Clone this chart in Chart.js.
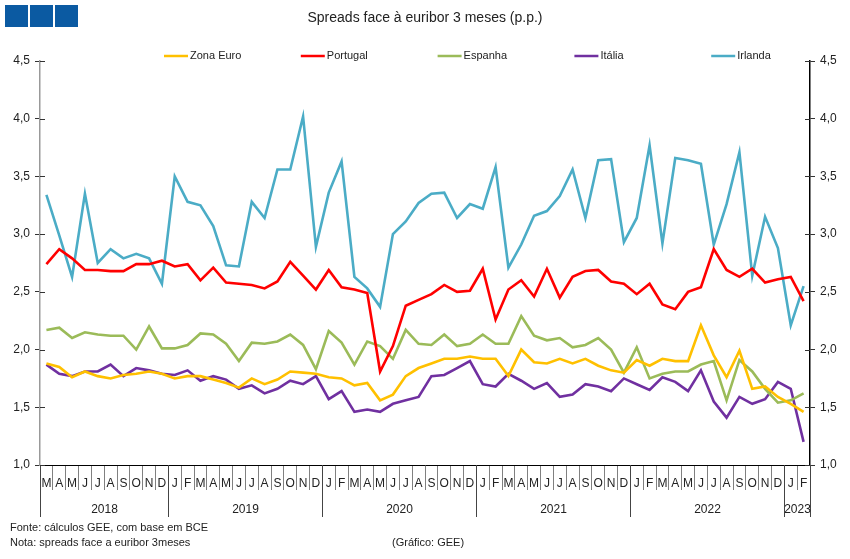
<!DOCTYPE html>
<html>
<head>
<meta charset="utf-8">
<script src="https://cdn.jsdelivr.net/npm/chart.js@4.4.1/dist/chart.umd.min.js"></script>
<style>
    body { margin: 0; background: #fff; font-family: 'Liberation Sans', Arial, sans-serif; }
    #wrap { position: relative; width: 850px; height: 559px; }
    #spreadChart { position: absolute; left: 0; top: 0; }
    .logo { position: absolute; top: 5px; width: 23px; height: 22px; background: #0b5aa2; }
    .txt { position: absolute; color: #222; white-space: nowrap; }
</style>
</head>
<body>
<div id="wrap">
    <canvas id="spreadChart" width="850" height="559"></canvas>
    <div class="logo" style="left:5px"></div>
    <div class="logo" style="left:30px"></div>
    <div class="logo" style="left:55px"></div>
    <div class="txt" style="left:0;width:850px;top:9px;text-align:center;font-size:14px;">Spreads face à euribor 3 meses (p.p.)</div>
    <div class="txt" style="left:10px;top:521px;font-size:11px;">Fonte: cálculos GEE, com base em BCE</div>
    <div class="txt" style="left:10px;top:536px;font-size:11px;">Nota: spreads face a euribor 3meses</div>
    <div class="txt" style="left:392px;top:536px;font-size:11px;">(Gráfico: GEE)</div>
</div>
<script>
// Month letters, March 2018 to February 2023
const months = [
    'M','A','M','J','J','A','S','O','N','D',
    'J','F','M','A','M','J','J','A','S','O','N','D',
    'J','F','M','A','M','J','J','A','S','O','N','D',
    'J','F','M','A','M','J','J','A','S','O','N','D',
    'J','F','M','A','M','J','J','A','S','O','N','D',
    'J','F'
];
const years = ['2018', '2019', '2020', '2021', '2022', '2023'];
const monthsInYear = [10, 12, 12, 12, 12, 2];

const yTicks = [1.0, 1.5, 2.0, 2.5, 3.0, 3.5, 4.0, 4.5];

// Spreads (p.p.)
const zonaEuro = [
    1.88, 1.85, 1.76, 1.81, 1.77, 1.75, 1.78, 1.79, 1.81, 1.79,
    1.75, 1.77, 1.77, 1.74, 1.71, 1.67, 1.75, 1.70, 1.74, 1.81, 1.80, 1.79,
    1.76, 1.75, 1.69, 1.71, 1.56, 1.61, 1.77, 1.84, 1.88, 1.92, 1.92, 1.94,
    1.92, 1.92, 1.77, 2.00, 1.89, 1.88, 1.92, 1.88, 1.92, 1.86, 1.82, 1.80,
    1.91, 1.86, 1.92, 1.90, 1.90, 2.21, 1.95, 1.76, 1.99, 1.66, 1.68, 1.59,
    1.53, 1.46
];
const portugal = [
    2.74, 2.87, 2.79, 2.69, 2.69, 2.68, 2.68, 2.74, 2.74, 2.77,
    2.72, 2.74, 2.60, 2.71, 2.58, 2.57, 2.56, 2.53, 2.59, 2.76, 2.64, 2.52,
    2.69, 2.54, 2.52, 2.49, 1.81, 2.03, 2.38, 2.43, 2.48, 2.56, 2.50, 2.51,
    2.70, 2.26, 2.52, 2.60, 2.46, 2.70, 2.45, 2.63, 2.68, 2.69, 2.59, 2.57,
    2.48, 2.57, 2.39, 2.35, 2.50, 2.54, 2.87, 2.69, 2.63, 2.70, 2.58, 2.61,
    2.63, 2.42
];
const espanha = [
    2.17, 2.19, 2.10, 2.15, 2.13, 2.12, 2.12, 2.00, 2.20, 2.01,
    2.01, 2.04, 2.14, 2.13, 2.05, 1.90, 2.06, 2.05, 2.07, 2.13, 2.04, 1.83,
    2.16, 2.06, 1.87, 2.07, 2.03, 1.92, 2.17, 2.05, 2.04, 2.13, 2.03, 2.05,
    2.13, 2.05, 2.05, 2.29, 2.12, 2.08, 2.10, 2.02, 2.04, 2.10, 2.00, 1.80,
    2.02, 1.75, 1.79, 1.81, 1.81, 1.87, 1.90, 1.56, 1.91, 1.81, 1.66, 1.54,
    1.56, 1.62
];
const italia = [
    1.87, 1.79, 1.77, 1.81, 1.81, 1.87, 1.77, 1.84, 1.82, 1.79,
    1.78, 1.82, 1.73, 1.77, 1.74, 1.66, 1.69, 1.62, 1.66, 1.73, 1.70, 1.77,
    1.57, 1.64, 1.46, 1.48, 1.46, 1.53, 1.56, 1.59, 1.77, 1.78, 1.84, 1.90,
    1.70, 1.68, 1.79, 1.73, 1.66, 1.71, 1.59, 1.61, 1.70, 1.68, 1.64, 1.75,
    1.70, 1.65, 1.76, 1.72, 1.64, 1.82, 1.55, 1.41, 1.59, 1.53, 1.57, 1.72,
    1.66, 1.20
];
const irlanda = [
    3.34, 2.99, 2.63, 3.35, 2.75, 2.87, 2.79, 2.83, 2.79, 2.57,
    3.50, 3.28, 3.25, 3.07, 2.73, 2.72, 3.28, 3.14, 3.56, 3.56, 4.02, 2.89,
    3.36, 3.63, 2.63, 2.53, 2.37, 3.00, 3.11, 3.27, 3.35, 3.36, 3.14, 3.26,
    3.22, 3.58, 2.71, 2.91, 3.16, 3.20, 3.33, 3.56, 3.14, 3.64, 3.65, 2.93,
    3.14, 3.77, 2.92, 3.66, 3.64, 3.61, 2.91, 3.26, 3.71, 2.64, 3.15, 2.88,
    2.21, 2.55
];

const FONT = "'Liberation Sans', Arial, sans-serif";

// Legend drawn on a fixed grid, like the original
const legendPlugin = {
    id: 'fixedLegend',
    afterDraw(chart) {
        const ctx = chart.ctx;
        ctx.save();
        ctx.font = '11px ' + FONT;
        ctx.textBaseline = 'middle';
        chart.data.datasets.forEach((ds, i) => {
            const x = 190 + i * 136.8;
            ctx.strokeStyle = ds.borderColor;
            ctx.lineWidth = 2.5;
            ctx.beginPath();
            ctx.moveTo(x - 26, 56);
            ctx.lineTo(x - 2, 56);
            ctx.stroke();
            ctx.fillStyle = '#222';
            ctx.fillText(ds.label, x, 56);
        });
        ctx.restore();
    }
};

// Year row under the month letters, plus ticks crossing the y axes
const axisExtras = {
    id: 'axisExtras',
    afterDraw(chart) {
        const ctx = chart.ctx;
        const xs = chart.scales.x;
        const area = chart.chartArea;
        const half = (xs.getPixelForValue(1) - xs.getPixelForValue(0)) / 2;
        ctx.save();

        ctx.strokeStyle = '#444';
        ctx.lineWidth = 1;
        ctx.font = '12px ' + FONT;
        ctx.fillStyle = '#222';
        ctx.textAlign = 'center';
        ctx.textBaseline = 'middle';
        let start = 0;
        years.forEach((yr, k) => {
            const end = start + monthsInYear[k] - 1;
            const x1 = Math.round(xs.getPixelForValue(start) - half) + 0.5;
            const x2 = Math.round(xs.getPixelForValue(end) + half) + 0.5;
            ctx.beginPath();
            ctx.moveTo(x1, area.bottom);
            ctx.lineTo(x1, area.bottom + 52);
            if (k === years.length - 1) {
                ctx.moveTo(x2, area.bottom);
                ctx.lineTo(x2, area.bottom + 52);
            }
            ctx.stroke();
            ctx.fillText(yr, (x1 + x2) / 2, area.bottom + 45);
            start = end + 1;
        });

        // inner halves of the y tick marks
        ctx.strokeStyle = '#333';
        yTicks.forEach(v => {
            const y = Math.round(chart.scales.y.getPixelForValue(v)) + 0.5;
            ctx.beginPath();
            ctx.moveTo(area.left, y);
            ctx.lineTo(area.left + 5, y);
            ctx.moveTo(area.right - 5, y);
            ctx.lineTo(area.right, y);
            ctx.stroke();
        });
        ctx.restore();
    }
};

function lineSet(label, data, color) {
    return {
        label: label,
        data: data,
        borderColor: color,
        backgroundColor: color,
        borderWidth: 2.6,
        pointRadius: 0,
        tension: 0,
        yAxisID: 'y'
    };
}

function yAxis(position, borderColor) {
    return {
        type: 'linear',
        position: position,
        min: 1,
        max: 4.5,
        afterFit: scale => { scale.width = 40; },
        afterBuildTicks: scale => { scale.ticks = yTicks.map(v => ({ value: v })); },
        border: { color: borderColor, width: 1.5 },
        grid: { drawOnChartArea: false, tickLength: 5, color: '#333' },
        ticks: {
            padding: 5,
            color: '#222',
            font: { size: 12, family: FONT },
            callback: v => v.toFixed(1).replace('.', ',')
        }
    };
}

const ctx = document.getElementById('spreadChart').getContext('2d');
new Chart(ctx, {
    type: 'line',
    data: {
        labels: months,
        datasets: [
            lineSet('Zona Euro', zonaEuro, '#FFC000'),
            lineSet('Portugal', portugal, '#FF0000'),
            lineSet('Espanha', espanha, '#9BBB59'),
            lineSet('Itália', italia, '#7030A0'),
            lineSet('Irlanda', irlanda, '#4BACC6')
        ]
    },
    options: {
        responsive: false,
        animation: false,
        layout: { padding: { top: 61, left: 0, right: 0, bottom: 0 } },
        plugins: {
            legend: { display: false },
            title: { display: false },
            tooltip: { enabled: false }
        },
        scales: {
            x: {
                type: 'category',
                offset: true,
                afterFit: scale => { scale.height = 94; },
                border: { color: '#000', width: 1 },
                grid: { offset: true, drawOnChartArea: false, tickLength: 25, color: '#808080' },
                ticks: {
                    autoSkip: false,
                    maxRotation: 0,
                    padding: -14,
                    color: '#222',
                    font: { size: 12, family: FONT }
                }
            },
            y: yAxis('left', '#999'),
            y2: yAxis('right', '#000')
        }
    },
    plugins: [legendPlugin, axisExtras]
});
</script>
</body>
</html>
